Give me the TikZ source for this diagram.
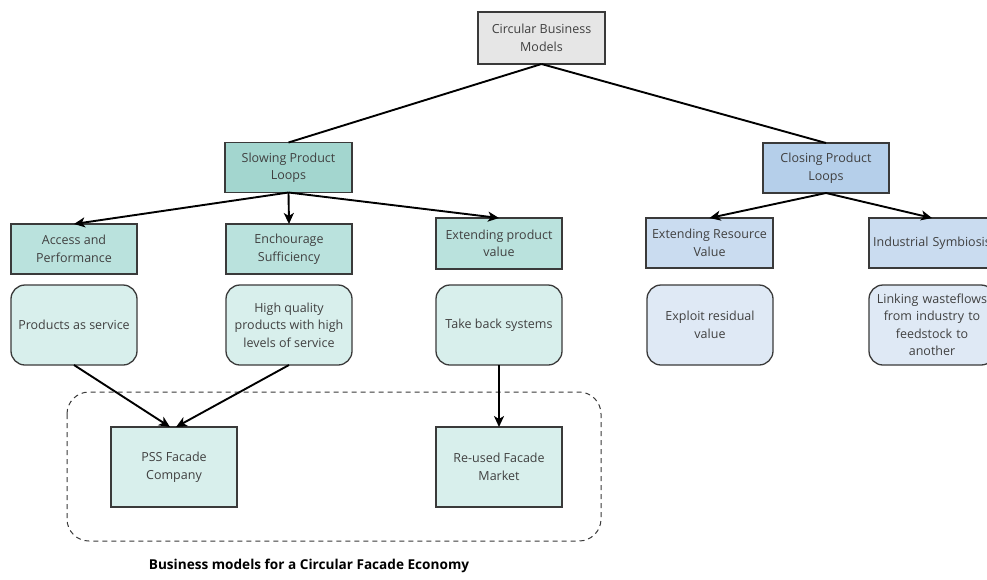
\documentclass[tikz,border=0pt]{standalone}
\usepackage{fontspec}
\setmainfont{Open Sans}
\usetikzlibrary{arrows.meta}
\definecolor{txt}{HTML}{404040}
\definecolor{edge}{HTML}{3A3A3A}
\definecolor{rootfill}{HTML}{E6E6E6}
\definecolor{slowfill}{HTML}{A3D6CF}
\definecolor{slowsub}{HTML}{BAE2DD}
\definecolor{slowleaf}{HTML}{D8EFEC}
\definecolor{closefill}{HTML}{B5CFEA}
\definecolor{closesub}{HTML}{CADCF0}
\definecolor{closeleaf}{HTML}{DFE9F5}
\tikzset{
  box/.style={draw=edge, line width=1.3pt, text=txt, align=center,
    minimum width=126pt, minimum height=50pt, inner sep=1pt, outer sep=0pt,
    font=\fontsize{12.5}{17.5}\selectfont},
  leaf/.style={box, rounded corners=14pt, minimum height=80pt},
  link/.style={line width=1.9pt, black},
  arr/.style={link, -{Stealth[length=11pt,width=10pt,inset=3pt]}},
}
\begin{document}
\begin{tikzpicture}[x=1pt,y=-1pt]
\useasboundingbox (0,0) rectangle (987,579);
\clip (0,0) rectangle (987,579);
\fill[white] (0,0) rectangle (987,579);

% root and the two branches
\node[box, fill=rootfill, minimum width=127pt, minimum height=52pt] (root) at (541.5,38) {Circular Business\\Models};
\node[box, fill=slowfill, minimum width=127pt] (slow) at (288.5,167.5) {Slowing Product\\Loops};
\node[box, fill=closefill] (close) at (826,168) {Closing Product\\Loops};

% strategies
\node[box, fill=slowsub] (access) at (74,249) {Access and\\Performance};
\node[box, fill=slowsub] (suff) at (289,249) {Enchourage\\Sufficiency};
\node[box, fill=slowsub, minimum height=51pt] (extprod) at (499,243.5) {Extending product\\value};
\node[box, fill=closesub, minimum width=127pt] (extres) at (709.5,243) {Extending Resource\\Value};
\node[box, fill=closesub, text width=124pt] (indus) at (932,243) {Industrial Symbiosis};

% business model types
\node[leaf, fill=slowleaf] (service) at (74,325) {Products as service};
\node[leaf, fill=slowleaf] (quality) at (289,325) {High quality\\products with high\\levels of service};
\node[leaf, fill=slowleaf] (takeback) at (499,325) {Take back systems};
\node[leaf, fill=closeleaf] (residual) at (710,325) {Exploit residual\\value};
\node[leaf, fill=closeleaf, text width=124pt] (waste) at (932,325) {Linking wasteflows\\from industry to\\feedstock to\\another};

% facade business models
\draw[edge, line width=1pt, dash pattern=on 5pt off 4pt, rounded corners=22pt] (67,392) rectangle (601,541);
\node[box, fill=slowleaf, minimum height=80pt] (pss) at (174,467) {PSS Facade\\Company};
\node[box, fill=slowleaf, minimum height=80pt] (reused) at (499,467) {Re-used Facade\\Market};
\node[text=black, font=\fontsize{13.6}{16}\selectfont\bfseries] (title) at (309,566) {Business models for a Circular Facade Economy};

% connectors
\draw[link] (root.south) -- (slow.north);
\draw[link] (root.south) -- (close.north);
\draw[arr] (slow.south) -- (access.north);
\draw[arr] (slow.south) -- (suff.north);
\draw[arr] (slow.south) -- (extprod.north);
\draw[arr] (close.south) -- (extres.north);
\draw[arr] (close.south) -- (indus.north);
\draw[arr] (service.south) -- ([xshift=-4pt]pss.north);
\draw[arr] (quality.south) -- ([xshift=2pt]pss.north);
\draw[arr] (takeback.south) -- (reused.north);
\end{tikzpicture}
\end{document}
